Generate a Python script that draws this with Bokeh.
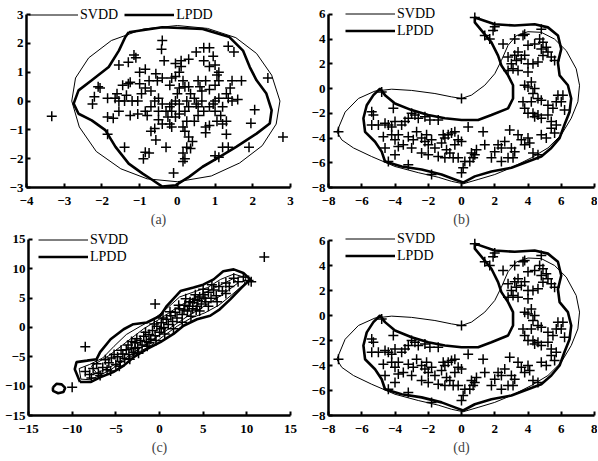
from bokeh.plotting import figure
from bokeh.layouts import column, row
from bokeh.models import Range1d, FixedTicker, Legend, LegendItem
from bokeh.embed import file_html
from bokeh.resources import INLINE

FONT = "Liberation Serif"

# ---------------- panel (a) ----------------
a_xticks = [-4, -3, -2, -1, 0, 1, 2, 3]
a_yticks = [-3, -2, -1, 0, 1, 2, 3]
a_svdd = [(0, 2.62), (0.8, 2.52), (1.55, 2.2), (2.1, 1.65), (2.5, 0.9), (2.72, 0.0), (2.62, -0.8),
          (2.25, -1.55), (1.65, -2.15), (0.9, -2.6), (0.0, -2.8), (-0.8, -2.7), (-1.5, -2.35),
          (-2.15, -1.75), (-2.6, -0.9), (-2.8, 0.0), (-2.7, 0.8), (-2.35, 1.5), (-1.75, 2.1),
          (-0.9, 2.5), (0, 2.62)]
a_lpdd = [(-1.29, 2.39), (-0.4, 2.56), (0.67, 2.5), (1.38, 2.22), (1.74, 1.75), (1.92, 1.18),
          (2.1, 0.72), (2.36, 0.26), (2.5, -0.32), (2.45, -0.78), (2.1, -1.13), (1.56, -1.59),
          (1.12, -1.94), (0.67, -2.28), (0.31, -2.63), (-0.04, -2.92), (-0.4, -2.97), (-0.66, -2.74),
          (-0.93, -2.51), (-1.29, -2.17), (-1.64, -1.59), (-1.91, -1.01), (-2.27, -0.67),
          (-2.62, -0.44), (-2.75, -0.09), (-2.62, 0.37), (-2.27, 0.72), (-1.82, 1.18),
          (-1.55, 1.75), (-1.38, 2.22), (-1.29, 2.39)]
a_pts = [(-3.33, -0.53), (2.8, -1.25), (2.4, 0.8), (1.7, 0.7), (1.95, -0.77), (2.05, -0.3), (1.9, -1.6),
         (1.35, 1.9), (1.5, 1.7), (-0.4, 2.1), (-0.42, 1.8), (-1.15, 1.6), (-1.1, 1.5), (-1.3, 1.35),
         (-1.55, 1.25), (-1.0, 1.0), (-0.85, 1.1), (-0.35, 1.4), (0.1, 1.4), (0.3, 1.45), (0.5, 1.7),
         (0.7, 1.85), (0.85, 1.85), (0.95, 1.55), (1.0, 1.25), (1.1, 1.0), (1.05, 0.9), (0.85, 1.2),
         (0.7, 1.4), (0.1, 1.2), (0.05, 1.0), (-0.05, 0.85), (-0.57, 0.95), (-0.53, 0.7), (-0.4, 0.8),
         (-2.1, 0.5), (-2.05, 0.45), (-2.2, 0.15), (-2.25, -0.1), (-1.85, 0.1), (-1.65, 0.1),
         (-1.55, 0.0), (-1.6, 0.25), (-1.85, -0.55), (-1.7, -0.6), (-1.85, -1.15), (-1.4, -1.6),
         (-0.85, -1.78), (-0.75, -1.8), (-0.9, -2.0), (-0.7, -1.05), (-0.6, -0.95), (-0.57, -1.35),
         (-0.85, -0.35), (-1.05, -0.45), (-1.25, -0.5), (-1.2, 0.0), (-1.05, 0.0), (-0.95, 0.25),
         (-0.85, 0.45), (-1.25, 0.65), (-1.0, 0.6), (-0.7, 0.35), (-0.6, 0.0), (-0.5, 0.1),
         (-0.4, -0.1), (-0.5, -0.35), (-0.3, -0.35), (-0.2, -0.2), (-0.25, -0.55), (-0.15, -0.35),
         (-0.05, 0.0), (-0.15, -0.1), (0.0, 0.25), (0.15, 0.7), (0.2, 0.5), (0.05, 0.45), (0.3, 0.5),
         (0.35, 0.25), (0.45, 0.1), (0.5, -0.1), (0.55, -0.2), (0.65, 0.0), (0.3, -0.2), (0.2, -0.35),
         (0.05, -0.45), (-0.05, -0.55), (-0.2, -0.8), (-0.15, -0.9), (0.25, -0.7), (0.45, -0.7),
         (0.55, -0.5), (0.7, -0.35), (0.85, -0.2), (0.95, -0.1), (1.0, 0.0), (1.1, 0.1), (1.2, -0.2),
         (1.3, 0.25), (1.35, 0.1), (1.45, 0.0), (1.6, 0.05), (1.4, 0.45), (1.45, 0.7), (1.0, -0.35),
         (1.15, -0.5), (1.05, -0.7), (1.2, -0.8), (1.3, -0.7), (0.75, -0.9), (0.85, -0.85),
         (0.65, 0.35), (0.85, 0.4), (0.75, 0.7), (0.55, 0.7), (0.6, 0.5), (1.0, 0.55), (1.1, 0.7),
         (0.3, -1.25), (0.4, -1.4), (0.25, -1.6), (0.35, -1.65), (0.15, -1.8), (0.15, -2.1),
         (0.2, -2.0), (-0.1, -2.5), (-0.3, -1.6), (1.0, -1.9), (1.1, -1.95), (1.2, -1.6), (1.35, -1.6),
         (1.3, -1.15), (0.75, -1.1), (-1.3, 0.6), (-1.45, 0.55), (-1.55, -0.35), (-1.4, 0.0),
         (-1.35, 0.2), (-0.75, 0.7), (-0.2, 0.55), (-0.15, 0.8), (-0.05, 1.3), (-0.7, -0.2),
         (-0.8, -0.5), (-0.5, -0.65), (-0.4, -0.8), (0.15, -0.9), (0.2, -1.05), (0.05, -0.1),
         (0.25, 0.0)]

# ---------------- panels (b) and (d) (same data) ----------------
b_xticks = [-8, -6, -4, -2, 0, 2, 4, 6, 8]
b_yticks = [-8, -6, -4, -2, 0, 2, 4, 6]
b_svdd = [(-7.5, -3.5), (-7.0, -1.9), (-6.2, -0.8), (-5.2, -0.2), (-4.2, -0.05), (-3.0, -0.15),
          (-1.6, -0.4), (-0.6, -0.67), (0.0, -0.8), (0.6, -0.53), (1.4, 0.27), (2.0, 1.2),
          (2.4, 2.27), (2.8, 3.5), (3.3, 4.28), (4.0, 4.6), (4.8, 4.55), (5.6, 4.0), (6.3, 3.07),
          (6.9, 1.6), (7.1, 0.27), (7.0, -1.07), (6.6, -2.4), (6.0, -3.74), (5.2, -4.8), (4.2, -5.6),
          (3.0, -6.4), (2.0, -6.95), (1.0, -7.35), (0.1, -7.7), (-0.6, -7.5), (-1.4, -7.17),
          (-2.6, -6.8), (-4.0, -6.3), (-5.4, -5.5), (-6.5, -4.8), (-7.2, -4.15), (-7.5, -3.5)]
b_lpdd = [(0.8, 5.75), (2.0, 5.2), (3.2, 5.1), (4.4, 5.2), (5.2, 4.95), (5.8, 4.3), (6.0, 3.2),
          (5.8, 2.1), (5.9, 1.07), (6.4, 0.27), (6.6, -0.8), (6.5, -1.9), (6.2, -2.9), (5.9, -4.0),
          (5.4, -4.8), (4.8, -5.5), (4.0, -5.9), (3.0, -6.4), (1.8, -6.7), (0.8, -7.1), (0.1, -7.6),
          (-0.4, -7.35), (-1.2, -6.95), (-2.4, -6.55), (-3.6, -6.3), (-4.6, -5.9), (-4.8, -5.1),
          (-5.2, -4.3), (-5.8, -3.5), (-5.9, -2.4), (-5.7, -1.35), (-5.3, -0.53), (-4.9, 0.0),
          (-4.6, -0.53), (-4.0, -1.2), (-3.0, -1.74), (-2.0, -2.14), (-1.0, -2.4), (0.0, -2.54),
          (1.0, -2.54), (1.8, -2.14), (2.8, -1.6), (3.1, -0.8), (3.1, 0.27), (2.8, 1.07),
          (2.4, 1.87), (2.2, 2.67), (1.8, 3.74), (1.3, 4.55), (0.8, 5.35), (0.8, 5.75)]
b_pts = [(0.8, 5.75), (2.0, 5.0), (1.9, 4.7), (1.4, 4.3), (1.7, 4.0), (2.5, 3.6), (2.8, 2.55),
         (3.2, 2.7), (3.4, 2.95), (3.3, 2.27), (3.6, 2.4), (3.8, 2.7), (3.7, 4.3), (3.8, 4.4),
         (3.2, 4.0), (4.0, 3.5), (4.4, 3.6), (4.7, 4.0), (4.8, 4.8), (4.9, 3.74), (5.1, 3.35),
         (4.8, 3.2), (5.2, 2.95), (5.4, 2.55), (5.6, 2.27), (4.9, 2.67), (4.6, 2.14), (4.0, 2.0),
         (4.3, 2.0), (3.0, 2.0), (3.1, 1.6), (3.4, 1.47), (2.8, 1.47), (4.0, 1.34), (4.2, 0.53),
         (4.0, 0.13), (3.8, 0.27), (4.4, 0.0), (4.3, -0.4), (4.6, -0.8), (4.8, -0.94), (4.2, -1.07),
         (3.7, -1.07), (3.8, -1.6), (4.0, -2.0), (4.3, -2.0), (4.6, -2.14), (4.4, -2.27),
         (4.8, -2.4), (5.2, -1.34), (5.5, -1.6), (5.7, -1.07), (5.8, -0.53), (6.1, -0.53),
         (6.0, -1.07), (6.2, -1.74), (5.2, -2.14), (5.4, -2.67), (5.7, -2.94), (5.4, -3.2),
         (5.6, -3.6), (4.8, -3.74), (5.1, -4.0), (4.0, -4.0), (4.1, -4.4), (3.8, -4.55),
         (4.3, -5.2), (4.6, -5.35), (3.4, -3.74), (3.6, -4.14), (3.0, -4.8), (3.2, -5.1),
         (2.8, -5.6), (3.1, -5.6), (2.9, -3.34), (2.6, -4.28), (2.4, -4.8), (2.2, -4.55),
         (2.0, -5.1), (1.8, -5.6), (2.4, -5.9), (1.4, -4.55), (1.3, -3.5), (0.4, -3.1),
         (0.8, -5.35), (0.6, -5.2), (0.9, -4.95), (0.5, -5.9), (0.2, -5.9), (0.1, -6.4),
         (0.0, -6.8), (0.7, -5.6), (0.0, -0.8), (-4.8, -0.27), (-7.4, -3.5), (-5.4, -1.87),
         (-5.3, -2.14), (-5.4, -2.94), (-5.0, -2.94), (-4.6, -2.8), (-4.4, -2.94), (-4.2, -3.1),
         (-4.1, -1.6), (-4.0, -2.67), (-3.6, -2.94), (-3.4, -2.67), (-3.2, -2.4), (-3.0, -2.0),
         (-2.8, -2.14), (-2.6, -2.4), (-2.2, -2.27), (-1.9, -2.54), (-1.4, -2.54), (-4.7, -3.9),
         (-4.2, -3.74), (-4.0, -4.14), (-3.8, -3.74), (-3.5, -4.55), (-3.2, -3.9), (-2.9, -4.14),
         (-2.7, -3.5), (-2.4, -4.0), (-2.2, -4.28), (-2.1, -3.74), (-2.0, -4.55), (-1.8, -4.14),
         (-1.6, -4.8), (-1.2, -4.4), (-1.1, -3.74), (-1.0, -4.0), (-0.8, -3.74), (-0.9, -4.95),
         (-0.7, -5.2), (-1.0, -5.6), (-1.4, -5.5), (-2.0, -5.35), (-2.4, -5.2), (-4.0, -5.35),
         (-4.4, -5.9), (-3.2, -6.15), (-1.8, -6.95), (-0.4, -4.55), (-0.2, -4.14), (-0.4, -3.5),
         (-0.6, -3.6), (0.0, -4.28), (-0.5, -5.6), (-0.2, -5.6), (-3.8, -4.68), (-4.6, -4.8),
         (-3.0, -4.8)]

# ---------------- panel (c) ----------------
c_ticks = [-15, -10, -5, 0, 5, 10, 15]
c_lpdd_outer = [(-9.1, -9.3), (-9.7, -7.1), (-9.5, -5.9), (-8.3, -5.65), (-7.2, -5.4), (-6.8, -4.2),
                (-5.6, -2.0), (-4.1, -0.3), (-3.0, 0.56), (-1.45, 0.85), (0.1, 2.0), (0.85, 3.7),
                (2.4, 6.2), (3.9, 6.8), (5.0, 7.3), (6.2, 8.2), (7.3, 9.6), (8.5, 9.9), (9.6, 9.3),
                (10.4, 8.2), (9.4, 6.8), (8.1, 4.8), (6.9, 3.1), (5.8, 2.0), (4.3, 1.4), (2.75, 0.3),
                (1.6, -1.1), (0.1, -2.5), (-1.45, -3.7), (-3.0, -5.1), (-4.1, -6.5), (-5.3, -7.6),
                (-6.8, -8.5), (-7.9, -9.3), (-9.1, -9.3)]
c_lpdd_island = [(-12.2, -10.2), (-11.8, -9.6), (-11.2, -9.7), (-10.8, -10.3), (-11.0, -11.0),
                 (-11.6, -11.2), (-12.2, -10.8), (-12.2, -10.2)]
c_svdd_1 = [(-9.0, -8.8), (-9.2, -7.0), (-8.0, -6.3), (-6.5, -5.2), (-5.2, -3.2), (-3.8, -1.2),
            (-2.2, 0.2), (-0.6, 1.5), (0.8, 3.2), (2.3, 5.2), (4.0, 6.1), (5.5, 6.8), (7.0, 8.2),
            (8.5, 9.1), (9.9, 8.5), (9.7, 7.4), (8.3, 5.6), (6.8, 3.8), (5.2, 2.5), (3.6, 1.6),
            (2.1, 0.3), (0.6, -1.3), (-0.9, -3.0), (-2.5, -4.3), (-4.0, -5.6), (-5.5, -7.1),
            (-7.0, -8.3), (-8.0, -8.9), (-9.0, -8.8)]
c_svdd_2 = [(-7.2, -7.8), (-7.8, -6.6), (-5.8, -4.8), (-3.8, -2.5), (-1.8, -0.2), (0.2, 1.6),
            (2.2, 3.6), (4.3, 5.3), (6.4, 6.8), (8.4, 8.3), (9.0, 7.6), (7.2, 5.6), (5.2, 3.7),
            (3.2, 1.9), (1.2, -0.1), (-0.8, -2.1), (-2.8, -4.1), (-4.8, -6.1), (-7.2, -7.8)]
c_pts = [(-8.5, -7.5), (-8.0, -8.0), (-7.6, -7.0), (-7.0, -7.8), (-6.5, -6.8), (-7.2, -6.2),
         (-6.0, -7.2), (-5.8, -6.0), (-5.5, -5.2), (-5.0, -6.3), (-4.8, -5.0), (-4.5, -5.8),
         (-4.2, -4.5), (-4.0, -5.3), (-3.8, -3.8), (-3.5, -4.6), (-3.2, -3.5), (-3.0, -4.2),
         (-2.8, -2.6), (-2.5, -3.4), (-2.2, -2.2), (-2.0, -3.0), (-1.8, -1.5), (-1.5, -2.4),
         (-1.2, -1.2), (-1.0, -2.0), (-0.8, -0.5), (-0.5, -1.4), (-0.3, 0.2), (0.0, -0.8),
         (0.2, 0.8), (0.5, 0.0), (0.8, 1.4), (1.0, 0.5), (1.3, 2.0), (1.5, 1.0), (1.8, 2.6),
         (2.0, 1.6), (2.3, 3.2), (2.6, 2.2), (2.9, 3.8), (3.2, 2.8), (3.5, 4.4), (3.8, 3.2),
         (4.0, 4.8), (4.3, 3.6), (4.6, 5.2), (4.8, 4.0), (5.0, 5.6), (5.3, 4.4), (5.6, 6.0),
         (5.9, 5.0), (6.2, 6.4), (6.5, 5.4), (6.8, 7.0), (7.2, 6.2), (7.6, 7.6), (8.0, 7.0),
         (8.5, 8.4), (9.0, 7.8), (9.6, 8.6), (10.2, 8.0), (-6.2, -5.5), (-5.2, -4.6), (-4.4, -3.9),
         (-3.6, -3.0), (-2.6, -1.9), (-1.6, -0.8), (-0.6, 0.6), (0.4, 1.6), (1.2, 2.7), (2.2, 3.8),
         (3.0, 4.9), (4.1, 5.6), (5.0, 6.5), (6.0, 7.3), (-7.8, -8.6), (-6.8, -8.2), (-5.6, -7.4),
         (-4.6, -6.6), (-3.4, -5.4), (-2.4, -4.4), (-1.4, -3.2), (-0.4, -2.2), (0.6, -1.1),
         (1.6, -0.2), (2.6, 0.9), (3.6, 1.9), (4.6, 2.8), (5.6, 3.6), (6.6, 4.4), (7.6, 5.8),
         (3.8, 4.2), (4.4, 4.6), (4.2, 3.0), (5.2, 5.0), (3.4, 3.6), (2.8, 3.0), (-2.8, -3.6),
         (-3.2, -2.4), (-1.2, -2.6), (0.2, -0.2), (-8.5, -3.3), (-0.5, 4.0), (12.0, 12.0),
         (-10.0, -10.2), (10.5, 7.8)]


def xs(pairs):
    return [p[0] for p in pairs]


def ys(pairs):
    return [p[1] for p in pairs]


def make_panel(xr, yr, ytop, xt, yt, label, svdd_loops, lpdd_loops, pts, width, height,
               bl, br, bt, bb, horizontal, leg_loc):
    # y range extends a little above the top tick (room for the legend); the axis line stops at the tick
    p = figure(width=width, height=height, x_range=Range1d(*xr), y_range=Range1d(yr[0], ytop),
               output_backend="svg", toolbar_location=None,
               min_border_left=bl, min_border_right=br, min_border_top=bt, min_border_bottom=bb)
    p.outline_line_color = None
    p.xgrid.visible = False
    p.ygrid.visible = False
    p.background_fill_color = "white"
    p.border_fill_color = "white"
    p.xaxis.ticker = FixedTicker(ticks=xt)
    p.yaxis.ticker = FixedTicker(ticks=yt)
    p.yaxis.bounds = (yr[0], yr[1])
    for ax in (p.xaxis, p.yaxis):
        ax.axis_line_width = 2.5
        ax.axis_line_color = "black"
        ax.major_tick_in = 4
        ax.major_tick_out = 0
        ax.major_tick_line_width = 2
        ax.minor_tick_line_color = None
        ax.major_label_text_font = FONT
        ax.major_label_text_font_style = "bold"
        ax.major_label_text_font_size = "13px"
        ax.major_label_text_color = "black"
    p.xaxis.major_label_standoff = 9
    p.yaxis.major_label_standoff = 3
    p.xaxis.axis_label = label
    p.xaxis.axis_label_text_font = FONT
    p.xaxis.axis_label_text_font_style = "normal"
    p.xaxis.axis_label_text_font_size = "14px"
    p.xaxis.axis_label_standoff = 4

    r_s = p.multi_line([xs(l) for l in svdd_loops], [ys(l) for l in svdd_loops],
                       line_color="black", line_width=1.0)
    r_l = p.multi_line([xs(l) for l in lpdd_loops], [ys(l) for l in lpdd_loops],
                       line_color="black", line_width=2.6)
    p.scatter(xs(pts), ys(pts), marker="cross", size=10, line_color="black", line_width=1.5)

    leg = Legend(items=[LegendItem(label="SVDD", renderers=[r_s]),
                        LegendItem(label="LPDD", renderers=[r_l])],
                 location=leg_loc, orientation="horizontal" if horizontal else "vertical",
                 glyph_width=50, glyph_height=17, label_height=17, label_standoff=2,
                 spacing=6 if horizontal else 0, padding=0, margin=0,
                 background_fill_alpha=0, border_line_alpha=0,
                 label_text_font=FONT, label_text_font_size="14px",
                 label_text_color="black")
    p.add_layout(leg)
    return p


pa = make_panel((-4, 3), (-3, 3), 3.35, a_xticks, a_yticks, "(a)", [a_svdd], [a_lpdd], a_pts,
                305, 231, 26, 15, 4, 44, True, (2, 164))
pb = make_panel((-8, 8), (-8, 6), 6.8, b_xticks, b_yticks, "(b)", [b_svdd], [b_lpdd], b_pts,
                292, 231, 23, 3, 3, 44, False, (17, 148))
pc = make_panel((-15, 15), (-15, 15), 16.36, c_ticks, c_ticks, "(c)", [c_svdd_1, c_svdd_2],
                [c_lpdd_outer, c_lpdd_island], c_pts, 305, 230, 28, 15, 0, 46, False, (10, 150))
pd = make_panel((-8, 8), (-8, 6), 6.72, b_xticks, b_yticks, "(d)", [b_svdd], [b_lpdd], b_pts,
                292, 230, 23, 3, 0, 45, False, (17, 151))

layout = column(row(pa, pb), row(pc, pd))

open("out.html", "w").write(file_html(layout, INLINE))
